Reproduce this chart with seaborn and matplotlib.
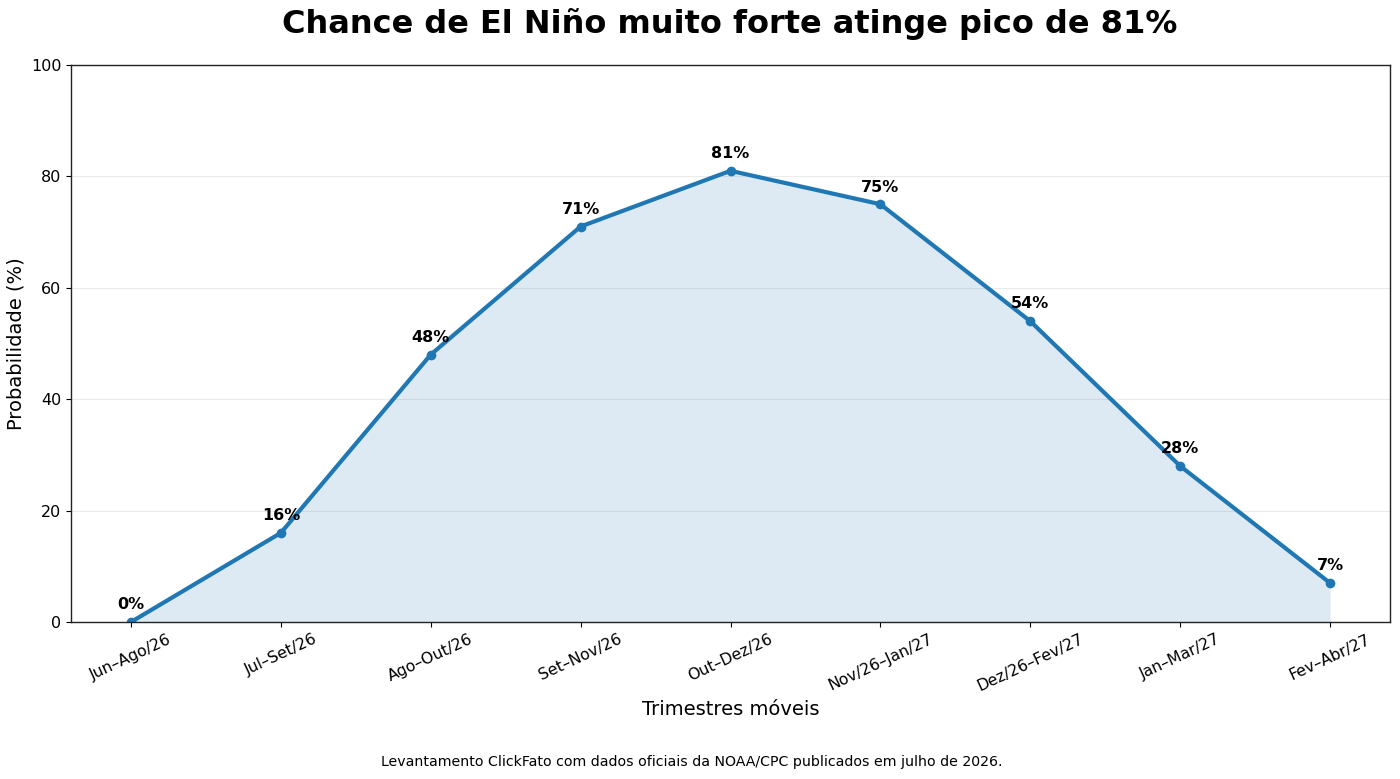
import matplotlib
matplotlib.use("Agg")
import matplotlib.pyplot as plt
import seaborn as sns
import pandas as pd

categories = ["Jun–Ago/26", "Jul–Set/26", "Ago–Out/26", "Set–Nov/26", "Out–Dez/26",
              "Nov/26–Jan/27", "Dez/26–Fev/27", "Jan–Mar/27", "Fev–Abr/27"]
values = [0, 16, 48, 71, 81, 75, 54, 28, 7]

sns.set_style("ticks")
plt.rcParams['font.family'] = ['DejaVu Sans']
for k in ["text.color", "axes.labelcolor", "xtick.color", "ytick.color"]:
    plt.rcParams[k] = "black"

df = pd.DataFrame({"pos": range(len(categories)), "val": values})

fig = plt.figure(figsize=(14, 7.79), dpi=100)
ax = fig.add_axes([0.0507, 0.2015, 0.9422, 0.7151])

color = "#1f77b4"
ax.fill_between(df["pos"], df["val"], color=color, alpha=0.15, linewidth=0)
sns.lineplot(data=df, x="pos", y="val", ax=ax, color=color, linewidth=3,
             marker="o", markersize=7, markeredgewidth=0)

for x, v in zip(df["pos"], df["val"]):
    ax.annotate(f"{v}%", (x, v), xytext=(0, 7), textcoords="offset points",
                ha="center", va="bottom", fontsize=11.5, fontweight="bold")

ax.set_xlim(-0.4, 8.4)
ax.set_ylim(0, 100)
ax.set_yticks([0, 20, 40, 60, 80, 100])
ax.set_xticks(range(len(categories)))
ax.set_xticklabels(categories, rotation=25, fontsize=11.3)
ax.tick_params(axis="y", labelsize=11.5)
ax.yaxis.grid(True, color="#ebebeb", linewidth=0.8)
ax.set_axisbelow(True)
ax.set_xlabel("Trimestres móveis", fontsize=14)
ax.set_ylabel("Probabilidade (%)", fontsize=14)
for s in ax.spines.values():
    s.set_color("#222222")
    s.set_linewidth(1)

fig.suptitle("Chance de El Niño muito forte atinge pico de 81%", fontsize=23,
             fontweight="bold", x=0.5214, y=0.99)
fig.text(0.494, 0.013, "Levantamento ClickFato com dados oficiais da NOAA/CPC publicados em julho de 2026.",
         ha="center", va="bottom", fontsize=10.2)

fig.savefig("out.png", dpi=100)
